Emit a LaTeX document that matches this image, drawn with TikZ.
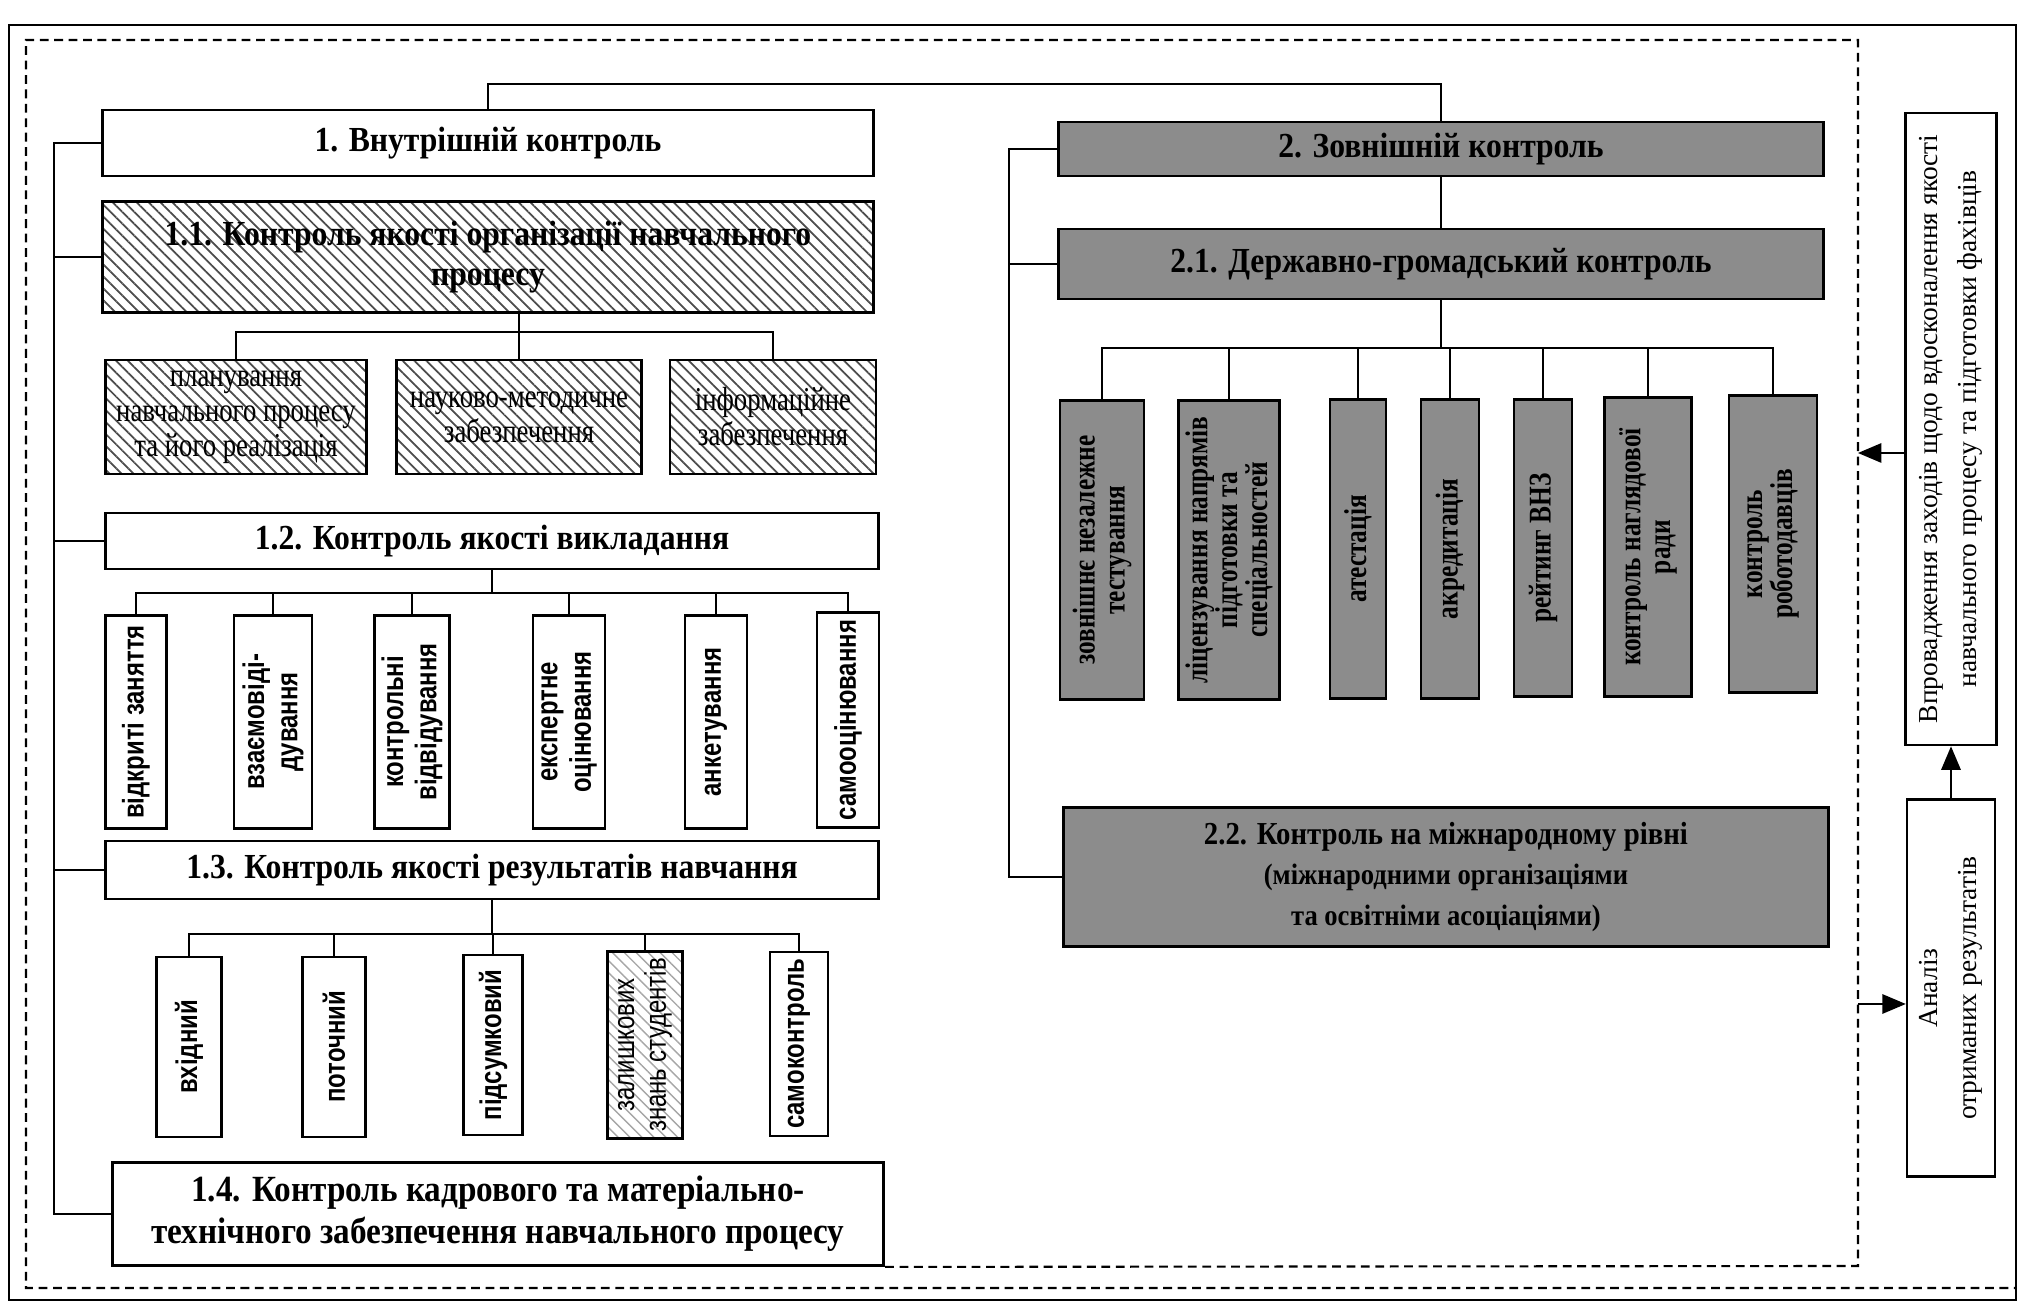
\documentclass[tikz,border=0pt]{standalone}
\usepackage{fontspec}
\setmainfont{Liberation Serif}
\setsansfont{Liberation Sans}
\newfontfamily\titleserif{Liberation Serif}[FakeStretch=0.9]
\newfontfamily\narrowserif{Liberation Serif}[FakeStretch=0.8]
\newfontfamily\narrowsans{Liberation Sans}[FakeStretch=0.8]
\usetikzlibrary{arrows,patterns.meta}
\tikzset{hatch/.style={pattern={Lines[angle=-45,distance=2.4pt,line width=0.5pt]}, pattern color=black!70},
	light_hatch/.style={pattern={Lines[angle=-45,distance=2.4pt,line width=0.4pt]}, pattern color=black!35},
	link/.style={line width=0.5pt},
	feedback/.style={line width=0.6pt, dash pattern=on 2.5pt off 1.6pt}
}
\tikzstyle{base_box} = [draw, line width=0.8pt, align=center, inner sep=2pt]
\tikzstyle{title_box} = [base_box, fill=white, font=\titleserif\bfseries\fontsize{10}{11.5}\selectfont]
\tikzstyle{hatched_box} = [base_box, hatch, font=\titleserif\bfseries\fontsize{10}{11.5}\selectfont]
\tikzstyle{item_box} = [base_box, hatch, font=\narrowserif\fontsize{9.5}{10}\selectfont]
\tikzstyle{dark_box} = [base_box, fill=black!45, font=\titleserif\bfseries\fontsize{10}{11.5}\selectfont]
\tikzstyle{vert_box} = [base_box, rotate=90, font=\narrowsans\bfseries\fontsize{8.5}{9.5}\selectfont]
\tikzstyle{dark_vert_box} = [base_box, rotate=90, fill=black!45, font=\narrowserif\bfseries\fontsize{9}{8.5}\selectfont]
\tikzstyle{side_box} = [draw, line width=0.7pt, rotate=90, align=center, font=\fontsize{7.8}{11}\selectfont]

\begin{document}
\begin{tikzpicture}[x=0.01cm, y=-0.01cm]
\useasboundingbox (0,0) rectangle (2020,1307);
\draw[line width=0.8pt] (9,25) rectangle (2016,1300);

% internal control
\node[title_box, minimum width=7.70cm, minimum height=0.66cm] (in) at (488,143) {1. Внутрішній контроль};
\node[hatched_box, minimum width=7.70cm, minimum height=1.11cm] (in1) at (488,257) {1.1. Контроль якості організації навчального\\процесу};
\node[item_box, minimum width=2.61cm, minimum height=1.14cm] (in1a) at (236,417) {планування\\навчального процесу\\та його реалізація};
\node[item_box, minimum width=2.45cm, minimum height=1.14cm] (in1b) at (519,417) {науково-методичне\\забезпечення};
\node[item_box, minimum width=2.06cm, minimum height=1.14cm] (in1c) at (773,417) {інформаційне\\забезпечення};
\node[title_box, minimum width=7.73cm, minimum height=0.56cm] (in2) at (492,541) {1.2. Контроль якості викладання};
\node[vert_box, minimum width=2.13cm, minimum height=0.61cm] (k1) at (136,722) {відкриті заняття};
\node[vert_box, minimum width=2.13cm, minimum height=0.78cm] (k2) at (273,722) {взаємовіді-\\дування};
\node[vert_box, minimum width=2.13cm, minimum height=0.67cm] (k3) at (412,722) {контрольні\\відвідування};
\node[vert_box, minimum width=2.13cm, minimum height=0.72cm] (k4) at (569,722) {експертне\\оцінювання};
\node[vert_box, minimum width=2.13cm, minimum height=0.62cm] (k5) at (716,722) {анкетування};
\node[vert_box, minimum width=2.13cm, minimum height=0.62cm] (k6) at (848,720) {самооцінювання};
\node[title_box, minimum width=7.73cm, minimum height=0.58cm] (in3) at (492,870) {1.3. Контроль якості результатів навчання};
\node[vert_box, minimum width=1.80cm, minimum height=0.65cm] (r1) at (189,1047) {вхідний};
\node[vert_box, minimum width=1.80cm, minimum height=0.63cm] (r2) at (334,1047) {поточний};
\node[vert_box, minimum width=1.80cm, minimum height=0.59cm] (r3) at (493,1045) {підсумковий};
\node[vert_box, light_hatch, minimum width=1.80cm, minimum height=0.75cm, font=\narrowsans\fontsize{8.5}{9}\selectfont] (r4) at (645,1045) {залишкових\\знань студентів};
\node[vert_box, minimum width=1.80cm, minimum height=0.58cm] (r5) at (799,1044) {самоконтроль};
\node[title_box, minimum width=7.71cm, minimum height=1.03cm, font=\titleserif\bfseries\fontsize{10.5}{12}\selectfont] (in4) at (498,1214) {1.4. Контроль кадрового та матеріально-\\технічного забезпечення навчального процесу};

% external control
\node[dark_box, minimum width=7.65cm, minimum height=0.54cm] (ex) at (1441,149) {2. Зовнішній контроль};
\node[dark_box, minimum width=7.65cm, minimum height=0.70cm] (ex1) at (1441,264) {2.1. Державно-громадський контроль};
\node[dark_vert_box, minimum width=2.99cm, minimum height=0.84cm] (d1) at (1102,550) {зовнішнє незалежне\\тестування};
\node[dark_vert_box, minimum width=2.99cm, minimum height=0.92cm] (d2) at (1229,550) {ліцензування напрямів\\підготовки та\\спеціальностей};
\node[dark_vert_box, minimum width=2.99cm, minimum height=0.56cm] (d3) at (1358,549) {атестація};
\node[dark_vert_box, minimum width=2.99cm, minimum height=0.58cm] (d4) at (1450,549) {акредитація};
\node[dark_vert_box, minimum width=2.97cm, minimum height=0.58cm] (d5) at (1543,548) {рейтинг ВНЗ};
\node[dark_vert_box, minimum width=2.99cm, minimum height=0.87cm] (d6) at (1648,547) {контроль наглядової\\ради};
\node[dark_vert_box, minimum width=2.97cm, minimum height=0.88cm] (d7) at (1773,544) {контроль\\роботодавців};
\node[dark_box, minimum width=7.65cm, minimum height=1.39cm] (ex2) at (1446,877) {{\fontsize{9.1}{11}\selectfont 2.2. Контроль на міжнародному рівні}\\{\fontsize{8.4}{10.5}\selectfont (міжнародними організаціями}\\{\fontsize{8.4}{10.5}\selectfont та освітніми асоціаціями)}};

% feedback column
\node[side_box, minimum width=6.32cm, minimum height=0.91cm] (impl) at (1951,429) {Впровадження заходів щодо вдосконалення якості\\навчального процесу та підготовки фахівців};
\node[side_box, minimum width=3.77cm, minimum height=0.88cm] (anal) at (1951,988) {Аналіз\\отриманих результатів};

% draw lines
\coordinate (top) at (0,84);
\coordinate (lsp) at (54,143);
\coordinate (rsp) at (1009,149);
\coordinate (t1) at (0,332);
\coordinate (t2) at (0,593);
\coordinate (t3) at (0,934);
\coordinate (t4) at (0,348);
\draw[link] (in.north) -- (in.north |- top) -| (ex.north);
\draw[link] (in.west) -- (lsp) |- (in4.west);
\draw[link] (in1.west) -- (in1.west -| lsp);
\draw[link] (in2.west) -- (in2.west -| lsp);
\draw[link] (in3.west) -- (in3.west -| lsp);
\draw[link] (in1.south -| in1b.north) -- (in1b.north);
\draw[link] (in1a.north) |- (in1c.north |- t1) -- (in1c.north);
\draw[link] (in2.south) -- (in2.south |- t2);
\draw[link] (k1.east) |- (k6.east |- t2) -- (k6.east);
\draw[link] (k2.east) -- (k2.east |- t2);
\draw[link] (k3.east) -- (k3.east |- t2);
\draw[link] (k4.east) -- (k4.east |- t2);
\draw[link] (k5.east) -- (k5.east |- t2);
\draw[link] (in3.south) -- (in3.south |- t3);
\draw[link] (r1.east) |- (r5.east |- t3) -- (r5.east);
\draw[link] (r2.east) -- (r2.east |- t3);
\draw[link] (r3.east) -- (r3.east |- t3);
\draw[link] (r4.east) -- (r4.east |- t3);
\draw[link] (ex.south) -- (ex1.north);
\draw[link] (ex.west) -- (rsp) |- (ex2.west);
\draw[link] (ex1.west) -- (ex1.west -| rsp);
\draw[link] (ex1.south) -- (ex1.south |- t4);
\draw[link] (d1.east) |- (d7.east |- t4) -- (d7.east);
\draw[link] (d2.east) -- (d2.east |- t4);
\draw[link] (d3.east) -- (d3.east |- t4);
\draw[link] (d4.east) -- (d4.east |- t4);
\draw[link] (d5.east) -- (d5.east |- t4);
\draw[link] (d6.east) -- (d6.east |- t4);

% feedback loop
\coordinate (fb_out) at (1858,453);
\coordinate (fb_in) at (1858,1004);
\draw[feedback] (in4.south east) -- (1858,1266) -- (1858,40) -- (26,40) -- (26,1288) -- (2016,1288);
\draw[link, -triangle 45] (fb_out -| impl.north) -- (fb_out);
\draw[link, -triangle 45] (fb_in) -- (fb_in -| anal.north);
\draw[link, -triangle 45] (anal.east) -- (impl.west);
\end{tikzpicture}
\end{document}
